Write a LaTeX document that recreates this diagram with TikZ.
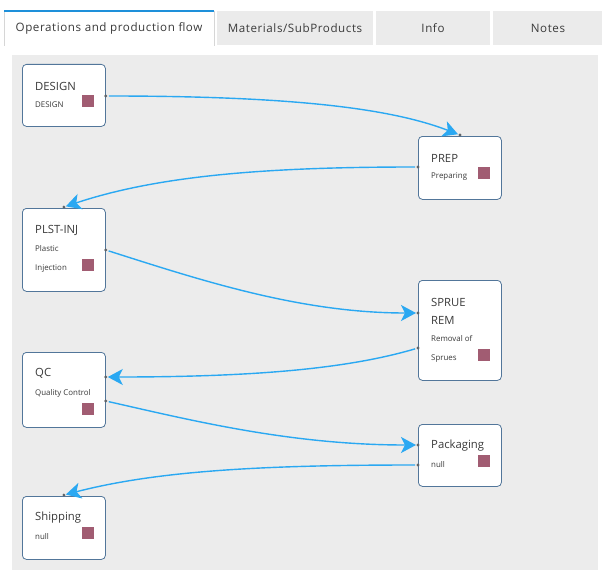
\documentclass[tikz,border=0pt]{standalone}
\usepackage{fontspec}
\setmainfont{Open Sans}
\newfontfamily\tabfont[LetterSpace=5]{Open Sans}
\usetikzlibrary{arrows.meta}

\definecolor{canvasgray}{HTML}{ECECEC}
\definecolor{tabgray}{HTML}{EBEBEB}
\definecolor{tabline}{HTML}{D6D6D6}
\definecolor{tabblue}{HTML}{1E90DA}
\definecolor{boxline}{HTML}{52769A}
\definecolor{flowblue}{HTML}{2AA8F2}
\definecolor{opcolor}{HTML}{A15C72}
\definecolor{textgray}{HTML}{3A3A3A}
\definecolor{portgray}{HTML}{5F6468}

\tikzset{
  opbox/.style={draw=boxline, fill=white, rounded corners=4pt, line width=0.8pt,
    minimum width=83pt, anchor=north west, inner sep=0pt},
  optitle/.style={anchor=west, inner sep=0pt, text=textgray,
    font=\fontsize{11.3}{13}\selectfont},
  opsub/.style={anchor=west, inner sep=0pt, text=textgray,
    font=\fontsize{7.9}{9}\selectfont},
  opmark/.style={fill=opcolor, minimum size=11.5pt, inner sep=0pt, anchor=north east},
  portdot/.style={fill=portgray},
  flow/.style={flowblue, line width=1.4pt, shorten <=3pt, shorten >=2pt,
    -{Stealth[length=15pt,width=16pt,inset=4pt]}},
  tabbox/.style={fill=tabgray},
  tablabel/.style={text=textgray, font=\tabfont\fontsize{11.6}{13}\selectfont, inner sep=0pt}
}

\begin{document}
\begin{tikzpicture}[x=1pt,y=-1pt]
\useasboundingbox (0,0) rectangle (602,578);

% Pestanas
\fill[white] (4,11) rectangle (214,46);
\draw[tabline] (4,46) -- (4,11) (214,11) -- (214,46);
\draw[tabblue, line width=2pt] (4,11) -- (214,11);
\fill[tabbox] (217,11) rectangle (373,45);
\fill[tabbox] (376,11) rectangle (490,45);
\fill[tabbox] (493,11) rectangle (602,45);
\node[tablabel] (tab-ops) at (109,28) {Operations and production flow};
\node[tablabel] (tab-mat) at (295,28) {Materials/SubProducts};
\node[tablabel] (tab-info) at (433,28) {Info};
\node[tablabel] (tab-notes) at (548,28) {Notes};

% Lienzo
\fill[canvasgray] (12,55) rectangle (598,570);

% Operaciones
\node[opbox, minimum height=62pt] (design) at (22,64) {};
\node[opbox, minimum height=63pt] (prep) at (418,136) {};
\node[opbox, minimum height=83pt] (plstinj) at (22,208) {};
\node[opbox, minimum height=100pt] (sprue) at (418,280) {};
\node[opbox, minimum height=75pt] (qc) at (22,352) {};
\node[opbox, minimum height=62pt] (pack) at (418,424) {};
\node[opbox, minimum height=63pt] (ship) at (22,496) {};

% Textos
\node[optitle] (design-title) at ([xshift=13pt,yshift=-22pt]design.north west) {DESIGN};
\node[opsub] (design-sub) at ([xshift=13pt,yshift=-41pt]design.north west) {DESIGN};
\node[optitle] (prep-title) at ([xshift=13pt,yshift=-22pt]prep.north west) {PREP};
\node[opsub] (prep-sub) at ([xshift=13pt,yshift=-41pt]prep.north west) {Preparing};
\node[optitle] (plstinj-title) at ([xshift=13pt,yshift=-22pt]plstinj.north west) {PLST-INJ};
\node[opsub] (plstinj-sub1) at ([xshift=13pt,yshift=-41pt]plstinj.north west) {Plastic};
\node[opsub] (plstinj-sub2) at ([xshift=13pt,yshift=-61pt]plstinj.north west) {Injection};
\node[optitle] (sprue-title1) at ([xshift=13pt,yshift=-22pt]sprue.north west) {SPRUE};
\node[optitle] (sprue-title2) at ([xshift=13pt,yshift=-40pt]sprue.north west) {REM};
\node[opsub] (sprue-sub1) at ([xshift=13pt,yshift=-59pt]sprue.north west) {Removal of};
\node[opsub] (sprue-sub2) at ([xshift=13pt,yshift=-79pt]sprue.north west) {Sprues};
\node[optitle] (qc-title) at ([xshift=13pt,yshift=-21pt]qc.north west) {QC};
\node[opsub] (qc-sub) at ([xshift=13pt,yshift=-41pt]qc.north west) {Quality Control};
\node[optitle] (pack-title) at ([xshift=13pt,yshift=-22pt]pack.north west) {Packaging};
\node[opsub] (pack-sub) at ([xshift=13pt,yshift=-41pt]pack.north west) {null};
\node[optitle] (ship-title) at ([xshift=13pt,yshift=-22pt]ship.north west) {Shipping};
\node[opsub] (ship-sub) at ([xshift=13pt,yshift=-41pt]ship.north west) {null};

% Marcas de color
\node[opmark] (design-mark) at ([xshift=-12pt,yshift=-31pt]design.north east) {};
\node[opmark] (prep-mark) at ([xshift=-12pt,yshift=-31pt]prep.north east) {};
\node[opmark] (plstinj-mark) at ([xshift=-12pt,yshift=-51pt]plstinj.north east) {};
\node[opmark] (sprue-mark) at ([xshift=-12pt,yshift=-69pt]sprue.north east) {};
\node[opmark] (qc-mark) at ([xshift=-12pt,yshift=-51pt]qc.north east) {};
\node[opmark] (pack-mark) at ([xshift=-12pt,yshift=-31pt]pack.north east) {};
\node[opmark] (ship-mark) at ([xshift=-12pt,yshift=-31pt]ship.north east) {};

% Puertos
\coordinate (design-out) at ([yshift=-32pt]design.north east);
\coordinate (prep-in) at ([yshift=1pt]prep.north);
\coordinate (prep-out) at ([yshift=-31pt]prep.north west);
\coordinate (plstinj-in) at ([yshift=1pt]plstinj.north);
\coordinate (plstinj-out) at ([yshift=-42pt]plstinj.north east);
\coordinate (sprue-in) at ([yshift=-33pt]sprue.north west);
\coordinate (sprue-out) at ([yshift=-68pt]sprue.north west);
\coordinate (qc-in) at ([yshift=-25pt]qc.north east);
\coordinate (qc-out) at ([yshift=-49pt]qc.north east);
\coordinate (pack-in) at ([yshift=-21pt]pack.north west);
\coordinate (pack-out) at ([yshift=-41pt]pack.north west);
\coordinate (ship-in) at ([yshift=1pt]ship.north);
\foreach \p in {design-out,prep-in,prep-out,plstinj-in,plstinj-out,sprue-in,sprue-out,
  qc-in,qc-out,pack-in,pack-out,ship-in}
  \fill[portdot] (\p) circle (1.6pt);

% Flujo
\draw[flow] (design-out) .. controls (290,96) and (390,108) .. (prep-in);
\draw[flow] (prep-out) .. controls (270,167) and (160,175) .. (plstinj-in);
\draw[flow] (plstinj-out) .. controls (200,280) and (300,313) .. (sprue-in);
\draw[flow] (sprue-out) .. controls (350,368) and (260,377) .. (qc-in);
\draw[flow] (qc-out) .. controls (190,420) and (290,445) .. (pack-in);
\draw[flow] (pack-out) .. controls (270,465) and (160,470) .. (ship-in);
\end{tikzpicture}
\end{document}
